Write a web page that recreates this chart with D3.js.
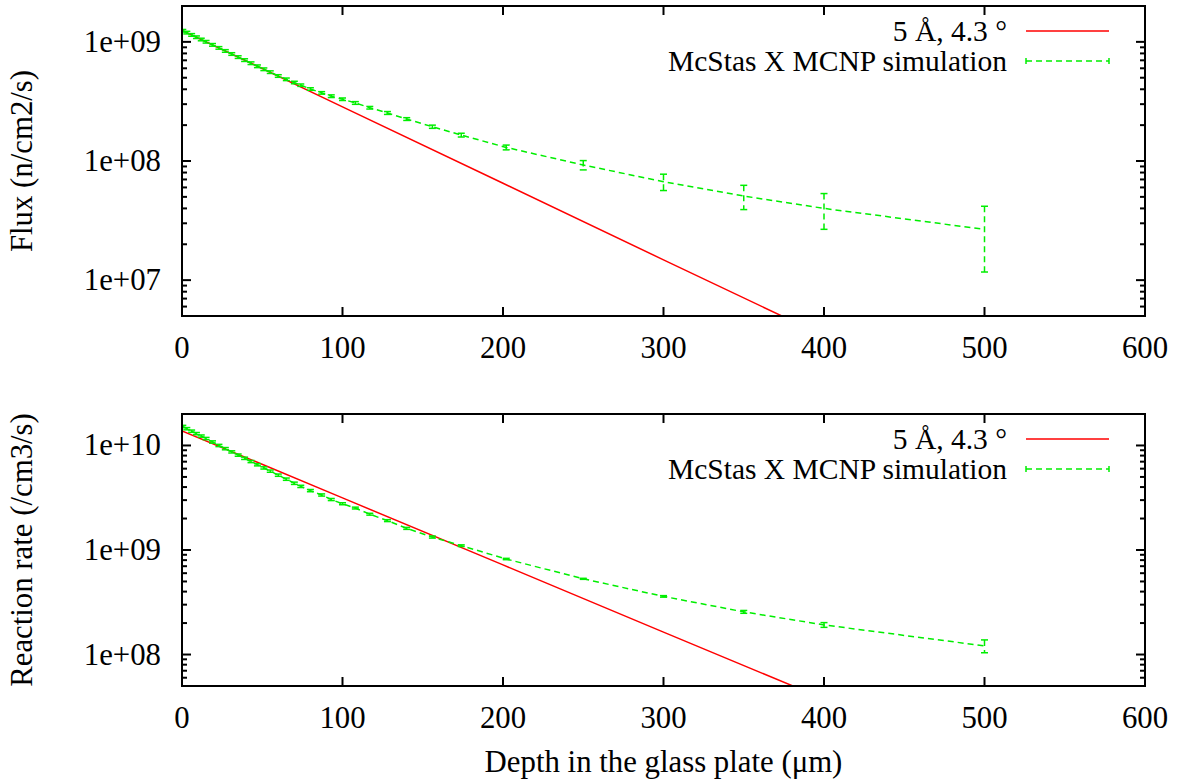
<!DOCTYPE html>
<html>
<head>
<meta charset="utf-8">
<script src="https://cdn.jsdelivr.net/npm/d3@7"></script>
<style>
  html, body { margin: 0; padding: 0; background: #fff; }
  svg { display: block; }
  text { font-family: "Liberation Serif", "Times New Roman", serif; fill: #000; }
</style>
</head>
<body>
<svg id="chart" width="1181" height="784"></svg>
<script>
// ---------------- data ----------------
const xTicks = [0, 100, 200, 300, 400, 500, 600];
const xTickLabels = ["0", "100", "200", "300", "400", "500", "600"];

const legendModel = "5 Å, 4.3 °";
const legendSim = "McStas X MCNP simulation";

// Simulation depths (µm)
const simDepth = [0.5, 3, 6, 9, 12, 15, 19, 23, 27, 31, 35, 39, 43, 47, 51, 55, 60, 65, 70,
  74, 80, 87, 93, 100, 108, 117, 128, 140, 156, 174, 202, 250, 300, 350, 400, 500];

// Top panel: flux (n/cm2/s)
const fluxSim = [1.24e9, 1.196e9, 1.144e9, 1.094e9, 1.047e9, 1.002e9, 9.44e8, 8.9e8, 8.39e8, 7.91e8,
  7.45e8, 7.03e8, 6.62e8, 6.24e8, 5.89e8, 5.57e8, 5.17e8, 4.85e8, 4.56e8,
  4.33e8, 4.02e8, 3.73e8, 3.5e8, 3.3e8, 3.07e8, 2.8e8, 2.53e8, 2.25e8, 1.94e8, 1.65e8, 1.3e8,
  9.25e7, 6.7e7, 5.08e7, 4.0e7, 2.67e7];
const fluxErr = [3.1e7, 3.0e7, 2.9e7, 2.7e7, 2.6e7, 2.5e7, 2.4e7, 2.2e7, 2.1e7, 2.0e7,
  1.9e7, 1.8e7, 1.7e7, 1.6e7, 1.5e7, 1.4e7, 1.3e7, 1.2e7, 1.1e7,
  1.0e7, 1.0e7, 9e6, 9e6, 8e6, 8e6, 7e6, 7e6, 6e6, 6e6, 6e6, 6e6,
  8.3e6, 1.05e7, 1.17e7, 1.33e7, 1.5e7];

// Model curve 5 Å, 4.3°
const modelDepth = [0, 100, 200, 300, 400];
const fluxModel = [1.25e9, 2.85e8, 6.5e7, 1.48e7, 3.4e6];

// Bottom panel: reaction rate (/cm3/s)
const rateSim = [1.52e10, 1.447e10, 1.37e10, 1.298e10, 1.23e10, 1.165e10, 1.08e10, 1.0e10, 9.32e9, 8.68e9,
  8.09e9, 7.54e9, 7.02e9, 6.54e9, 6.1e9, 5.68e9, 5.2e9, 4.76e9, 4.35e9,
  4.06e9, 3.7e9, 3.36e9, 3.04e9, 2.77e9, 2.52e9, 2.2e9, 1.91e9, 1.61e9, 1.33e9, 1.1e9, 8.2e8,
  5.3e8, 3.6e8, 2.56e8, 1.92e8, 1.21e8];
const rateErr = [3.8e8, 3.6e8, 3.4e8, 3.2e8, 3.0e8, 2.9e8, 2.7e8, 2.5e8, 2.3e8, 2.1e8,
  2.0e8, 1.9e8, 1.7e8, 1.6e8, 1.5e8, 1.4e8, 1.3e8, 1.2e8, 1.1e8,
  1.0e8, 9e7, 8e7, 7e7, 6e7, 5e7, 4.5e7, 4e7, 3.5e7, 3e7, 2e7, 1.2e7,
  6e6, 6e6, 8e6, 1.0e7, 1.7e7];
const rateModel = [1.38e10, 3.15e9, 7.2e8, 1.64e8, 3.76e7];

// ---------------- drawing ----------------
const svg = d3.select("#chart");
const FONT = 30.8;
const LEGEND_FONT = 29.5;
const RED = "#ff0000";
const GREEN = "#00ee00";
const DASH = "6,4";

const x0 = 182, x1 = 1145;

const panels = [
  { top: 6, bottom: 316, domain: [5e6, 2e9], yLabel: "Flux (n/cm2/s)",
    sim: fluxSim, err: fluxErr, model: fluxModel, decades: [1e7, 1e8, 1e9],
    decadeLabels: ["1e+07", "1e+08", "1e+09"], id: "p1" },
  { top: 414, bottom: 686, domain: [5e7, 2e10], yLabel: "Reaction rate (/cm3/s)",
    sim: rateSim, err: rateErr, model: rateModel, decades: [1e8, 1e9, 1e10],
    decadeLabels: ["1e+08", "1e+09", "1e+10"], id: "p2" }
];

const x = d3.scaleLinear().domain([0, 600]).range([x0, x1]);

panels.forEach(p => {
  const y = d3.scaleLog().domain(p.domain).range([p.bottom, p.top]);
  const g = svg.append("g");

  svg.append("clipPath").attr("id", "clip-" + p.id)
    .append("rect").attr("x", x0).attr("y", p.top).attr("width", x1 - x0).attr("height", p.bottom - p.top);

  // minor ticks
  const minors = [];
  const lo = Math.floor(Math.log10(p.domain[0])), hi = Math.ceil(Math.log10(p.domain[1]));
  for (let e = lo; e <= hi; e++) {
    for (let m = 2; m <= 9; m++) {
      const v = m * Math.pow(10, e);
      if (v > p.domain[0] && v < p.domain[1]) minors.push(v);
    }
  }
  const tickG = g.append("g").attr("stroke", "#000").attr("stroke-width", 2);
  minors.forEach(v => {
    tickG.append("line").attr("x1", x0).attr("x2", x0 + 5).attr("y1", y(v)).attr("y2", y(v));
    tickG.append("line").attr("x1", x1).attr("x2", x1 - 5).attr("y1", y(v)).attr("y2", y(v));
  });
  p.decades.forEach((v, i) => {
    tickG.append("line").attr("x1", x0).attr("x2", x0 + 9).attr("y1", y(v)).attr("y2", y(v));
    tickG.append("line").attr("x1", x1).attr("x2", x1 - 9).attr("y1", y(v)).attr("y2", y(v));
    g.append("text").attr("x", 161).attr("y", y(v)).attr("text-anchor", "end")
      .attr("dominant-baseline", "central").attr("font-size", FONT).text(p.decadeLabels[i]);
  });
  xTicks.forEach((v, i) => {
    tickG.append("line").attr("x1", x(v)).attr("x2", x(v)).attr("y1", p.bottom).attr("y2", p.bottom - 9);
    tickG.append("line").attr("x1", x(v)).attr("x2", x(v)).attr("y1", p.top).attr("y2", p.top + 9);
    g.append("text").attr("x", x(v)).attr("y", p.bottom + 32).attr("text-anchor", "middle")
      .attr("dominant-baseline", "central").attr("font-size", FONT).text(xTickLabels[i]);
  });

  // y label
  g.append("text")
    .attr("transform", `translate(22,${(p.top + p.bottom) / 2}) rotate(-90)`)
    .attr("text-anchor", "middle").attr("dominant-baseline", "central")
    .attr("font-size", FONT).text(p.yLabel);

  const data = g.append("g").attr("clip-path", `url(#clip-${p.id})`);

  // model line
  const modelPts = modelDepth.map((d, i) => [d, p.model[i]]);
  data.append("path").datum(modelPts)
    .attr("d", d3.line().x(d => x(d[0])).y(d => y(d[1])))
    .attr("fill", "none").attr("stroke", RED).attr("stroke-width", 1.5);

  // simulation line with error bars
  const simPts = simDepth.map((d, i) => ({ d, v: p.sim[i], e: p.err[i] }));
  data.append("path").datum(simPts)
    .attr("d", d3.line().x(d => x(d.d)).y(d => y(d.v)))
    .attr("fill", "none").attr("stroke", GREEN).attr("stroke-width", 1.5)
    .attr("stroke-dasharray", DASH);
  const eb = data.append("g").attr("stroke", GREEN).attr("stroke-width", 1.5).attr("fill", "none");
  simPts.forEach(s => {
    const yT = y(s.v + s.e), yB = y(Math.max(s.v - s.e, p.domain[0] * 0.5));
    const cx = x(s.d);
    eb.append("line").attr("x1", cx).attr("x2", cx).attr("y1", yT).attr("y2", yB)
      .attr("stroke-dasharray", DASH);
    eb.append("line").attr("x1", cx - 3.5).attr("x2", cx + 3.5).attr("y1", yT).attr("y2", yT);
    eb.append("line").attr("x1", cx - 3.5).attr("x2", cx + 3.5).attr("y1", yB).attr("y2", yB);
  });

  // frame
  g.append("rect").attr("x", x0).attr("y", p.top).attr("width", x1 - x0).attr("height", p.bottom - p.top)
    .attr("fill", "none").attr("stroke", "#000").attr("stroke-width", 2);

  // legend
  const lx = 1007, ls0 = 1026, ls1 = 1109;
  const r1 = p.top + 25, r2 = p.top + 55;
  g.append("text").attr("x", lx).attr("y", r1).attr("text-anchor", "end")
    .attr("dominant-baseline", "central").attr("font-size", LEGEND_FONT).text(legendModel);
  g.append("line").attr("x1", ls0).attr("x2", ls1).attr("y1", r1).attr("y2", r1)
    .attr("stroke", RED).attr("stroke-width", 1.5);
  g.append("text").attr("x", lx).attr("y", r2).attr("text-anchor", "end")
    .attr("dominant-baseline", "central").attr("font-size", LEGEND_FONT).text(legendSim);
  const lg = g.append("g").attr("stroke", GREEN).attr("stroke-width", 1.5);
  lg.append("line").attr("x1", ls0).attr("x2", ls1).attr("y1", r2).attr("y2", r2).attr("stroke-dasharray", DASH);
  lg.append("line").attr("x1", ls0).attr("x2", ls0).attr("y1", r2 - 3).attr("y2", r2 + 3);
  lg.append("line").attr("x1", ls1).attr("x2", ls1).attr("y1", r2 - 3).attr("y2", r2 + 3);
});

// x label
svg.append("text").attr("x", (x0 + x1) / 2).attr("y", 762).attr("text-anchor", "middle")
  .attr("dominant-baseline", "central").attr("font-size", FONT).text("Depth in the glass plate (μm)");
</script>
</body>
</html>
